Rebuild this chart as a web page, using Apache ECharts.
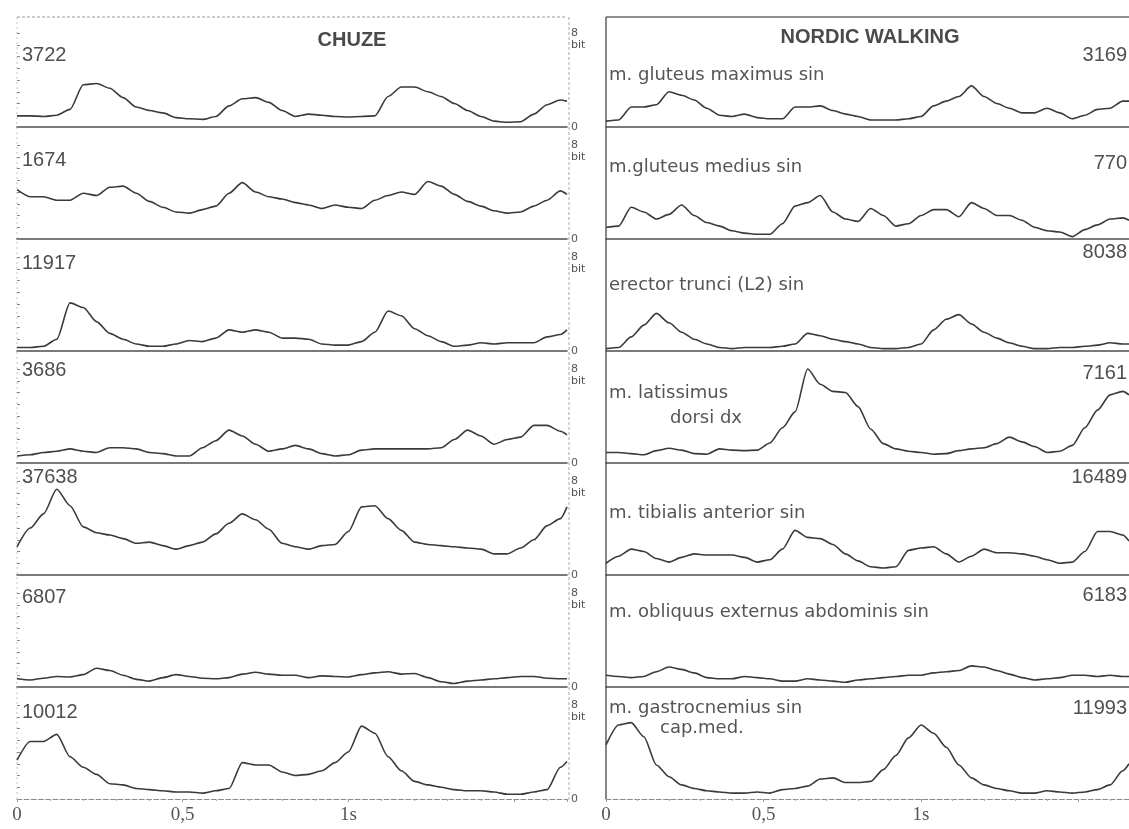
<!DOCTYPE html>
<html><head><meta charset="utf-8">
<script src="https://cdn.jsdelivr.net/npm/echarts@6/dist/echarts.min.js"></script>
<style>html,body{margin:0;padding:0;background:#fff}#c{width:1129px;height:829px}</style>
</head><body><div id="c"></div>
<script>
// time samples (s)
const timeS = [0,0.04,0.08,0.12,0.16,0.20,0.24,0.28,0.32,0.36,0.40,0.44,0.48,0.52,0.56,0.60,0.64,0.68,0.72,0.76,0.80,0.84,0.88,0.92,0.96,1.00,1.04,1.08,1.12,1.16,1.20,1.24,1.28,1.32,1.36,1.40,1.44,1.48,1.52,1.56,1.60,1.64,1.66];

// CHUZE (walking) - EMG envelopes, 0..8 bit
const chuze1 = [0.95,0.95,0.9,1.0,1.5,3.6,3.7,3.3,2.5,1.7,1.4,1.2,0.8,0.7,0.65,0.9,1.8,2.4,2.5,2.1,1.4,0.9,1.1,1.0,0.9,0.85,0.9,0.95,2.6,3.4,3.4,3.0,2.6,2.0,1.4,0.9,0.5,0.4,0.45,1.1,1.9,2.3,2.2];
const chuze2 = [4.2,3.6,3.6,3.3,3.3,3.9,3.7,4.4,4.5,3.9,3.2,2.7,2.3,2.2,2.5,2.8,3.9,4.8,4.0,3.6,3.4,3.1,2.9,2.6,2.9,2.7,2.6,3.3,3.7,4.0,3.8,4.9,4.5,3.8,3.2,2.8,2.4,2.2,2.3,2.8,3.3,4.1,3.8];
const chuze3 = [0.3,0.3,0.4,1.0,4.1,3.7,2.5,1.5,1.0,0.6,0.4,0.4,0.6,0.9,0.8,1.1,1.8,1.6,1.8,1.6,1.1,1.1,1.0,0.6,0.5,0.5,0.8,1.6,3.4,3.0,1.9,1.3,0.8,0.4,0.5,0.7,0.6,0.7,0.7,0.7,1.2,1.4,1.8];
const chuze4 = [0.6,0.7,0.9,1.0,1.2,1.0,0.9,1.3,1.3,1.2,0.9,0.8,0.6,0.6,1.3,1.9,2.8,2.3,1.6,1.0,1.2,1.5,1.2,0.8,0.6,0.7,1.1,1.2,1.2,1.2,1.2,1.2,1.3,2.0,2.8,2.3,1.6,2.0,2.2,3.2,3.2,2.7,2.4];
const chuze5 = [2.4,4.0,5.2,7.3,5.9,4.1,3.6,3.4,3.1,2.7,2.8,2.5,2.2,2.5,2.8,3.5,4.4,5.2,4.7,3.9,2.7,2.4,2.2,2.5,2.6,3.7,5.8,5.9,4.8,3.8,2.8,2.6,2.5,2.4,2.3,2.2,1.8,1.8,2.3,3.0,4.2,4.8,5.8];
const chuze6 = [0.7,0.6,0.75,0.9,0.85,1.05,1.6,1.4,1.0,0.65,0.5,0.8,1.05,0.9,0.75,0.7,0.8,1.1,1.25,1.1,1.0,1.0,0.8,0.95,0.9,0.85,1.05,1.2,1.3,1.1,1.15,0.8,0.45,0.3,0.5,0.6,0.7,0.8,0.9,0.9,0.75,0.7,0.7];
const chuze7 = [3.3,4.9,4.9,5.5,3.6,2.7,2.1,1.3,1.2,0.9,0.8,0.7,0.6,0.6,0.5,0.7,0.9,3.1,2.9,2.9,2.3,2.0,2.1,2.4,3.1,4.0,6.2,5.6,3.6,2.4,1.5,1.2,1.0,0.8,0.7,0.7,0.6,0.4,0.4,0.6,0.8,2.7,3.2];

// NORDIC WALKING
const nordic1 = [0.5,0.6,1.7,1.7,1.9,3.0,2.7,2.3,1.6,1.0,0.9,1.1,0.8,0.7,0.7,1.7,1.7,1.8,1.4,1.1,0.9,0.6,0.6,0.6,0.7,0.9,1.8,2.2,2.6,3.5,2.6,2.0,1.6,1.2,1.2,1.6,1.2,0.7,1.0,1.5,1.6,2.2,2.2];
const nordic2 = [1.0,1.1,2.7,2.3,1.7,2.1,2.9,2.0,1.4,1.1,0.7,0.5,0.4,0.4,1.3,2.8,3.1,3.7,2.3,1.7,1.5,2.6,2.0,1.1,1.3,2.0,2.5,2.5,1.9,3.1,2.6,2.0,2.0,1.6,1.0,0.7,0.6,0.2,0.8,1.2,1.7,1.8,1.6];
const nordic3 = [0.2,0.3,1.2,2.2,3.2,2.4,1.6,1.0,0.6,0.3,0.2,0.3,0.3,0.3,0.4,0.6,1.5,1.3,1.0,0.8,0.6,0.3,0.2,0.2,0.3,0.6,1.8,2.7,3.1,2.3,1.6,1.1,0.7,0.4,0.2,0.2,0.3,0.3,0.4,0.5,0.7,0.6,0.6];
const nordic4 = [0.9,0.9,0.8,0.7,1.05,1.25,1.1,0.8,0.75,1.2,1.1,1.05,1.1,1.7,3.0,4.35,8.0,6.7,6.1,6.0,4.8,2.9,1.65,1.2,1.0,0.9,0.75,0.8,1.05,1.2,1.3,1.65,2.2,1.8,1.4,0.9,1.0,1.5,3.0,4.5,5.8,6.1,5.8];
const nordic5 = [1.0,1.6,2.2,2.0,1.4,1.1,1.5,1.8,1.7,1.7,1.7,1.5,1.1,1.3,2.2,3.8,3.2,3.1,2.6,1.8,1.2,0.7,0.6,0.7,2.1,2.3,2.4,1.8,1.1,1.6,2.2,1.9,1.9,1.8,1.6,1.3,1.0,1.1,2.0,3.7,3.7,3.4,2.9];
const nordic6 = [1.0,0.9,0.8,0.9,1.3,1.7,1.5,1.2,0.8,0.7,0.7,0.9,0.8,0.7,0.5,0.5,0.7,0.6,0.5,0.4,0.6,0.7,0.8,0.9,1.0,1.0,1.2,1.3,1.4,1.8,1.7,1.4,1.1,0.8,0.6,0.7,0.8,1.0,1.0,0.9,1.0,0.9,0.9];
const nordic7 = [4.6,6.3,6.5,5.3,2.9,1.9,1.2,0.9,0.7,0.6,0.5,0.5,0.6,0.5,0.8,0.9,1.1,1.7,1.8,1.4,1.4,1.5,2.5,3.7,5.2,6.3,5.6,4.4,2.9,1.8,1.2,0.9,0.7,0.5,0.5,0.7,0.6,0.5,0.6,0.8,1.2,2.4,3.0];

const chuzeCounts = ['3722','1674','11917','3686','37638','6807','10012'];
const nordicCounts = ['3169','770','8038','7161','16489','6183','11993'];
const muscleLabels = [
  ['m. gluteus maximus sin'],
  ['m.gluteus medius sin'],
  ['erector trunci (L2) sin'],
  ['m. latissimus','dorsi dx'],
  ['m. tibialis anterior sin'],
  ['m. obliquus externus abdominis sin'],
  ['m. gastrocnemius sin','cap.med.']
];
const xTickLabels = {'0':'0','0.5':'0,5','1':'1s'};
const yTickLabels = {'8':'8','7':'bit','0':'0'};
const panelTitles = ['CHUZE','NORDIC WALKING'];

const chuze = [chuze1,chuze2,chuze3,chuze4,chuze5,chuze6,chuze7];
const nordic = [nordic1,nordic2,nordic3,nordic4,nordic5,nordic6,nordic7];

// layout
const L = {lx:17, lw:550, rx:606, rw:523, base0:127, step:112, h:94};
const grids=[], xAxes=[], yAxes=[], series=[], graphic=[];
for (let r=0;r<7;r++){
  const b = L.base0 + L.step*r;
  const last = r===6;
  [chuze[r], nordic[r]].forEach((arr, side)=>{
    const i = grids.length;
    grids.push({left: side?L.rx:L.lx, width: side?L.rw:L.lw, top: b-L.h, height: L.h});
    xAxes.push({gridIndex:i, type:'value', min:0, max:1.66, interval:0.5,
      axisLine:{show:true, onZero:false, lineStyle:{color: last?'#8a8a8a':'#4e4e4e', width: last?1.2:1.6, type: last?'dashed':'solid'}},
      axisTick:{show:last, length:3, lineStyle:{color:'#999'}},
      minorTick:{show:last, splitNumber:5, length:2, lineStyle:{color:'#aaa'}},
      axisLabel:{show:last, showMaxLabel:false, formatter: v => xTickLabels[String(v)] || '', fontFamily:'Liberation Serif', fontSize:19, color:'#555', margin:7},
      splitLine:{show:false}});
    yAxes.push({gridIndex:i, type:'value', min:0, max:8, interval:1, position: side?'left':'right',
      axisLine:{show:false},
      axisTick:{show:!side, length:3, lineStyle:{color:'#888'}},
      axisLabel:{show:!side, hideOverlap:false, formatter: v => yTickLabels[String(v)] || '', fontSize:11, color:'#555', margin:4, fontFamily:'DejaVu Sans', lineHeight:11},
      splitLine:{show:false}});
    series.push({type:'line', xAxisIndex:i, yAxisIndex:i, data: timeS.map((t,k)=>[t, arr[k]]),
      showSymbol:false, symbol:'none', smooth:0.25, smoothMonotone:'x',
      lineStyle:{color:'#3a3a3a', width:1.6}, silent:true, animation:false, clip:false});
  });
}

// frame lines
const line = (x1,y1,x2,y2,stroke,w,dash)=>({type:'line', silent:true, shape:{x1,y1,x2,y2}, style:{stroke, lineWidth:w, lineDash: dash||null}});
const bottom = L.base0 + L.step*6;
graphic.push(line(L.lx,17,L.lx+L.lw,17,'#9a9a9a',1.2,[3,2]));
graphic.push(line(L.rx,17,1129,17,'#6a6a6a',1.3));
graphic.push(line(L.lx,17,L.lx,bottom,'#c4c4c4',1,[2,3]));
graphic.push(line(L.lx+L.lw+2,17,L.lx+L.lw+2,bottom+2,'#a8a8a8',1,[3,2]));
graphic.push(line(L.rx,17,L.rx,bottom,'#555',1.4));

// texts
const txt = (text,x,y,size,opts)=>Object.assign({type:'text', silent:true, x, y, style:Object.assign({text, fontSize:size, fontFamily:'Liberation Sans', fill:'#474747', align:'left', verticalAlign:'middle'}, opts||{})});
graphic.push(txt(panelTitles[0],352,40,20,{fontWeight:'bold', align:'center', fill:'#4a4a4a'}));
graphic.push(txt(panelTitles[1],870,37,20,{fontWeight:'bold', align:'center', fill:'#4a4a4a'}));
const leftNumY = [55,160,263,370,477,597,712];
const rightNumY = [55,163,252,373,477,595,708];
chuzeCounts.forEach((s,r)=>graphic.push(txt(s,22,leftNumY[r],20,{fill:'#4f4f4f'})));
nordicCounts.forEach((s,r)=>graphic.push(txt(s,1127,rightNumY[r],20,{align:'right', fill:'#4f4f4f'})));
const muscleY = [[75],[167],[285],[393,418],[513],[612],[708,728]];
const muscleX = [[609],[609],[609],[609,670],[609],[609],[609,660]];
muscleLabels.forEach((lines,r)=>lines.forEach((s,j)=>graphic.push(txt(s,muscleX[r][j],muscleY[r][j],18,{fontFamily:'DejaVu Sans', fill:'#555'}))));

const chart = echarts.init(document.getElementById('c'), null, {renderer:'canvas'});
chart.setOption({backgroundColor:'#ffffff', animation:false, grid:grids, xAxis:xAxes, yAxis:yAxes, series, graphic});
</script></body></html>
